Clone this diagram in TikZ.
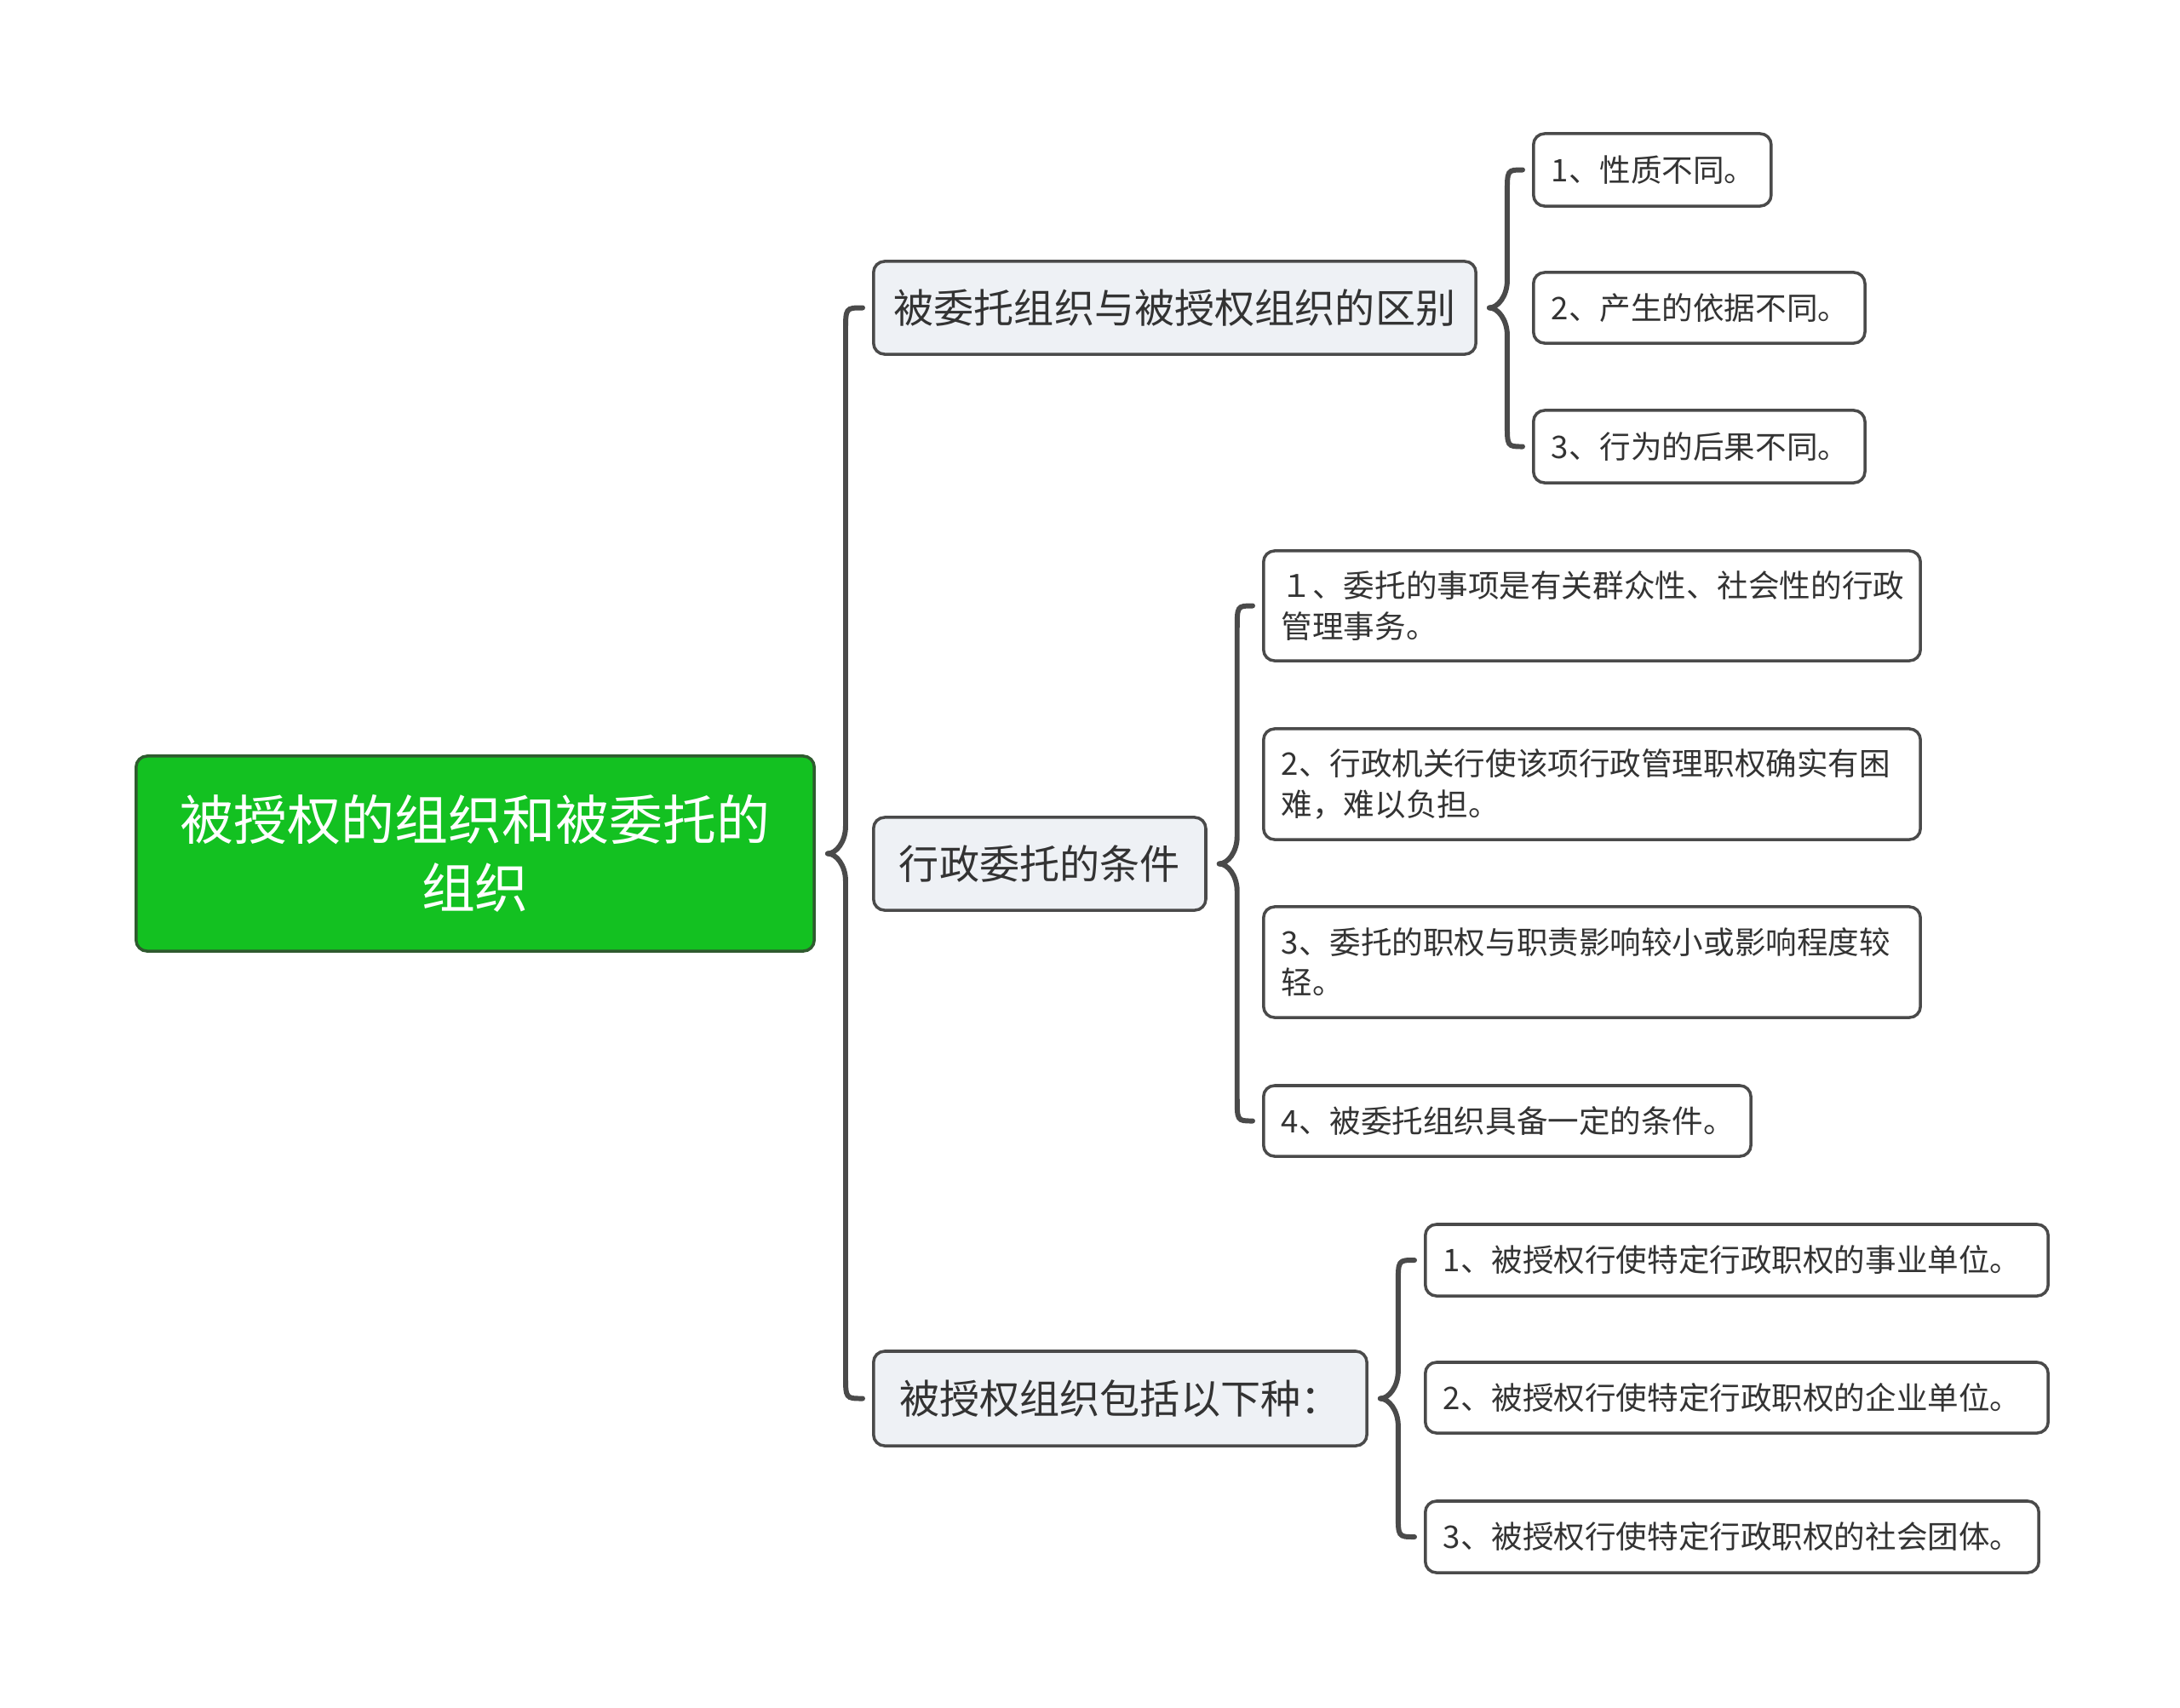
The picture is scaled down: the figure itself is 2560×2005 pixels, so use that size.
\documentclass[tikz,border=0pt]{standalone}
\usepackage{fontspec}
\setmainfont{Noto Sans CJK SC}
\usetikzlibrary{calc}
\definecolor{rootgreen}{HTML}{13C121}
\definecolor{rootborder}{HTML}{2F5A2F}
\definecolor{branchfill}{HTML}{EEF1F5}
\definecolor{edgecol}{HTML}{4A4A4A}
\definecolor{txtcol}{HTML}{333333}
\tikzset{
  basebox/.style={draw=edgecol, line width=1pt, rounded corners=0.13cm, anchor=west, inner sep=0pt, text=txtcol},
  rootbox/.style={basebox, fill=rootgreen, draw=rootborder, text=white, align=center, font=\fontsize{17.9pt}{22.8pt}\selectfont},
  branchbox/.style={basebox, fill=branchfill, align=center, font=\fontsize{13.4pt}{16pt}\selectfont},
  leafbox/.style={basebox, fill=white, align=left, inner xsep=0.21cm, font=\fontsize{10.4pt}{13.4pt}\selectfont},
  conn/.style={draw=edgecol, line width=1.7pt, line cap=round},
}
\newcommand\mmbrace[4]{%
  \coordinate (t#4) at ($(#1.east)+(14,0)$);
  \coordinate (v#4) at ($(t#4)+(21,0)$);
  \coordinate (ct#4) at (v#4 |- #2.west);
  \coordinate (cb#4) at (v#4 |- #3.west);
  \draw[conn] (t#4) .. controls ($(t#4)+(10,0)$) and ($(v#4)+(0,-14)$) .. ($(v#4)+(0,-32)$)
     -- ($(ct#4)+(0,28)$) .. controls (ct#4) .. ($(#2.west)+(-11,0)$);
  \draw[conn] (t#4) .. controls ($(t#4)+(10,0)$) and ($(v#4)+(0,14)$) .. ($(v#4)+(0,32)$)
     -- ($(cb#4)+(0,-28)$) .. controls (cb#4) .. ($(#3.west)+(-11,0)$);
}
\begin{document}
\begin{tikzpicture}[x=0.01cm,y=-0.01cm]
\useasboundingbox[fill=white] (0,0) rectangle (2560,2005);

\node[rootbox, minimum width=7.96cm, minimum height=2.29cm] (root) at (158,1002.5) {被授权的组织和被委托的\\组织};

\node[branchbox, minimum width=7.07cm, minimum height=1.09cm] (b1) at (1024,361.5) {被委托组织与被授权组织的区别};
\node[branchbox, minimum width=3.90cm, minimum height=1.09cm] (b2) at (1024,1014.5) {行政委托的条件};
\node[branchbox, minimum width=5.79cm, minimum height=1.11cm] (b3) at (1024,1642.5) {被授权组织包括以下种：};

\node[leafbox, text width=2.37cm, minimum height=0.85cm] (l11) at (1799,199.5) {1、性质不同。};
\node[leafbox, text width=3.47cm, minimum height=0.83cm] (l12) at (1799,361.5) {2、产生的依据不同。};
\node[leafbox, text width=3.47cm, minimum height=0.85cm] (l13) at (1799,524.5) {3、行为的后果不同。};

\node[leafbox, text width=7.29cm, minimum height=1.29cm] (l21) at (1482,711.5) {１、委托的事项是有关群众性、社会性的行政\\管理事务。};
\node[leafbox, text width=7.29cm, minimum height=1.30cm] (l22) at (1482,921) {2、行政机关行使该项行政管理职权确实有困\\难，难以负担。};
\node[leafbox, text width=7.29cm, minimum height=1.30cm] (l23) at (1482,1130) {3、委托的职权与职责影响较小或影响程度较\\轻。};
\node[leafbox, text width=5.30cm, minimum height=0.83cm] (l24) at (1482,1316.5) {4、被委托组织具备一定的条件。};

\node[leafbox, text width=6.89cm, minimum height=0.84cm] (l31) at (1672,1480) {1、被授权行使特定行政职权的事业单位。};
\node[leafbox, text width=6.89cm, minimum height=0.83cm] (l32) at (1672,1641.5) {2、被授权行使特定行政职权的企业单位。};
\node[leafbox, text width=6.78cm, minimum height=0.84cm] (l33) at (1672,1805) {3、被授权行使特定行政职权的社会团体。};

\mmbrace{root}{b1}{b3}{0}
\mmbrace{b1}{l11}{l13}{1}
\mmbrace{b2}{l21}{l24}{2}
\mmbrace{b3}{l31}{l33}{3}
\end{tikzpicture}
\end{document}
